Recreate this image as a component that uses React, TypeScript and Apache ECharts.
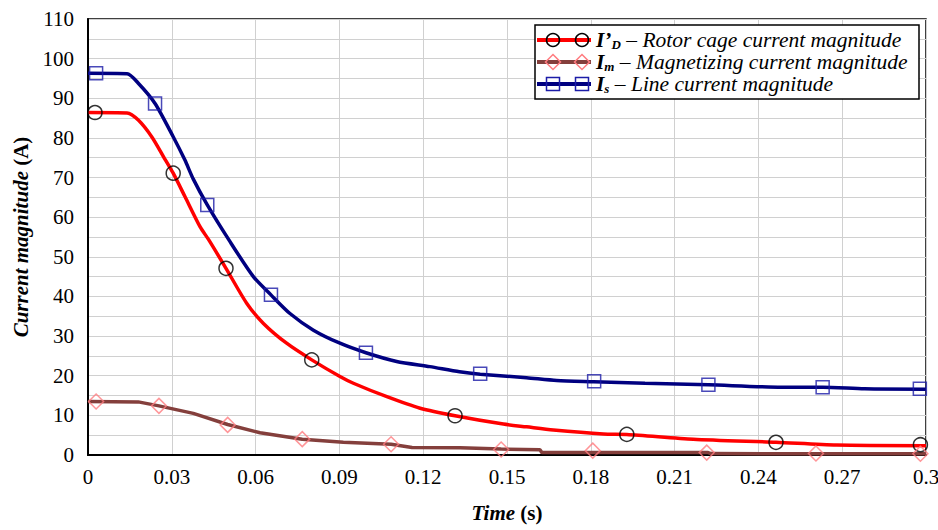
import React, { useEffect, useRef } from "react";
import * as echarts from "echarts";

// ---- Data ----
const isTimes = [0, 0.014, 0.018, 0.024, 0.0305, 0.0347, 0.0377, 0.0427, 0.0505, 0.0592, 0.0655, 0.0723, 0.0807, 0.0902, 0.0995, 0.1105, 0.1224, 0.133, 0.1404, 0.157, 0.1678, 0.181, 0.1994, 0.2221, 0.2483, 0.263, 0.278, 0.3];
const isValues = [96.3, 96.2, 93.8, 88.7, 80.3, 74.4, 69.6, 63.1, 54.2, 45.0, 40.4, 35.7, 31.5, 28.2, 25.8, 23.6, 22.3, 21.0, 20.4, 19.5, 18.8, 18.5, 18.1, 17.7, 17.1, 17.1, 16.7, 16.6];

const idTimes = [0, 0.014, 0.018, 0.0228, 0.027, 0.0305, 0.0347, 0.0401, 0.0433, 0.0494, 0.0568, 0.0628, 0.0711, 0.0801, 0.0902, 0.095, 0.107, 0.1189, 0.1314, 0.1487, 0.157, 0.1666, 0.1845, 0.1929, 0.2167, 0.2463, 0.268, 0.3];
const idValues = [86.4, 86.3, 84.5, 80.3, 75.3, 71.1, 65.2, 57.6, 54.2, 47.1, 38.3, 33.2, 28.2, 24.0, 19.8, 18.1, 14.7, 11.8, 9.9, 7.8, 7.1, 6.3, 5.3, 5.2, 4.0, 3.2, 2.5, 2.35];

const imTimes = [0, 0.018, 0.0254, 0.0377, 0.05, 0.0616, 0.0767, 0.0914, 0.1085, 0.116, 0.1332, 0.1479, 0.1618, 0.1625, 0.222, 0.223, 0.3];
const imValues = [13.5, 13.4, 12.4, 10.5, 7.7, 5.6, 4.0, 3.2, 2.7, 1.9, 1.8, 1.5, 1.3, 0.6, 0.6, 0.35, 0.3];

const idMarkTimes = [0.0025, 0.0305, 0.0494, 0.0801, 0.1314, 0.1929, 0.2463, 0.298];
const idMarkValues = [86.4, 71.1, 47.1, 24.0, 9.9, 5.2, 3.2, 2.6];

const imMarkTimes = [0.0029, 0.0254, 0.05, 0.0767, 0.1085, 0.1479, 0.1807, 0.2215, 0.2606, 0.298];
const imMarkValues = [13.5, 12.4, 7.6, 4.0, 2.7, 1.4, 1.1, 0.6, 0.4, 0.3];

const isMarkTimes = [0.0029, 0.024, 0.0427, 0.0655, 0.0995, 0.1404, 0.1812, 0.2221, 0.263, 0.2978];
const isMarkValues = [96.3, 88.7, 63.1, 40.4, 25.8, 20.5, 18.6, 17.7, 17.1, 16.7];

const xTickLabels = ["0", "0.03", "0.06", "0.09", "0.12", "0.15", "0.18", "0.21", "0.24", "0.27", "0.3"];

const legendNames = [
  ["I\u2019", "D", " \u2013 Rotor cage current magnitude"],
  ["I", "m", " \u2013 Magnetizing current magnitude"],
  ["I", "s", " \u2013 Line current magnitude"],
];

const FONT = "Liberation Serif";

const RED = "#ff0000";
const BROWN = "#843f3c";
const NAVY = "#000080";
const PINK = "#ff7c80";
const SQBLUE = "#1c1ca8";

const zip = (a: number[], b: number[]) => a.map((t, i) => [t, b[i]]);

export default function App() {
  const ref = useRef<HTMLDivElement>(null);
  useEffect(() => {
    if (!ref.current) return;
    const chart = echarts.init(ref.current, undefined, { renderer: "svg" });

    const lx0 = 537, lx1 = 591, m1 = 553, m2 = 582, tx = 596;
    const rows = [40, 62, 84];
    const legendGraphics: any[] = [
      {
        type: "rect",
        shape: { x: 535, y: 25, width: 384, height: 74 },
        style: { fill: "#fff", stroke: "#000", lineWidth: 1.5 },
        z: 100,
      },
    ];
    const lineColors = [RED, BROWN, NAVY];
    rows.forEach((ry, i) => {
      legendGraphics.push({
        type: "line",
        shape: { x1: lx0, y1: ry, x2: lx1, y2: ry },
        style: { stroke: lineColors[i], lineWidth: 4 },
        z: 101,
      });
      [m1, m2].forEach((mx) => {
        if (i === 0) {
          legendGraphics.push({
            type: "circle",
            shape: { cx: mx, cy: ry, r: 6.5 },
            style: { fill: "none", stroke: "#000", lineWidth: 1.5 },
            z: 102,
          });
        } else if (i === 1) {
          legendGraphics.push({
            type: "polygon",
            shape: { points: [[mx, ry - 7.5], [mx + 7.5, ry], [mx, ry + 7.5], [mx - 7.5, ry]] },
            style: { fill: "none", stroke: PINK, lineWidth: 1.5 },
            z: 102,
          });
        } else {
          legendGraphics.push({
            type: "rect",
            shape: { x: mx - 6.5, y: ry - 6.5, width: 13, height: 13 },
            style: { fill: "none", stroke: SQBLUE, lineWidth: 1.5 },
            z: 102,
          });
        }
      });
      const [a, s, rest] = legendNames[i];
      legendGraphics.push({
        type: "text",
        x: tx,
        y: ry,
        z: 103,
        style: {
          text: `{b|${a}}{sub|${s}}{t|${rest}}`,
          verticalAlign: "middle",
          fill: "#000",
          rich: {
            b: { fontFamily: FONT, fontSize: 21.5, fontWeight: "bold", fontStyle: "italic", lineHeight: 22, verticalAlign: "bottom" },
            sub: { fontFamily: FONT, fontSize: 13, fontWeight: "bold", fontStyle: "italic", lineHeight: 12, verticalAlign: "bottom" },
            t: { fontFamily: FONT, fontSize: 21.5, fontStyle: "italic", lineHeight: 22, verticalAlign: "bottom" },
          },
        },
      });
    });

    const lineSeries = (name: string, t: number[], v: number[], color: string, smooth: number) => ({
      name,
      type: "line",
      data: zip(t, v),
      showSymbol: false,
      symbol: "none",
      smooth,
      lineStyle: { color, width: 3.5 },
      z: 3,
    });
    const markSeries = (name: string, t: number[], v: number[], symbol: string, size: number, color: string) => ({
      name,
      type: "scatter",
      data: zip(t, v),
      symbol,
      symbolSize: size,
      itemStyle: { color: "rgba(0,0,0,0)", borderColor: color, borderWidth: 1.5 },
      z: 4,
    });

    const nameRich = {
      bi: { fontFamily: FONT, fontSize: 21, fontWeight: "bold", fontStyle: "italic", color: "#000" },
      b: { fontFamily: FONT, fontSize: 21, fontWeight: "bold", color: "#000" },
    };

    chart.setOption({
      animation: false,
      backgroundColor: "#fff",
      grid: {
        left: 88, right: 12, top: 19, bottom: 75,
        show: true, borderColor: "#000", borderWidth: 1.5,
        containLabel: false, outerBoundsMode: "none",
      },
      xAxis: {
        type: "value",
        min: 0,
        max: 0.3,
        interval: 0.03,
        axisLine: { show: true, onZero: false, lineStyle: { color: "#000", width: 2 } },
        axisTick: { show: false },
        splitLine: { show: true, lineStyle: { color: "#d0d0d0", width: 1 } },
        axisLabel: {
          fontFamily: FONT,
          fontSize: 21,
          color: "#000",
          margin: 11,
          formatter: (v: number) => xTickLabels[Math.round(v / 0.03)] ?? "",
        },
        name: "{bi|Time}{b| (s)}",
        nameLocation: "middle",
        nameGap: 47,
        nameTextStyle: { rich: nameRich },
      },
      yAxis: {
        type: "value",
        min: 0,
        max: 110,
        interval: 10,
        axisLine: { show: true, onZero: false, lineStyle: { color: "#000", width: 2 } },
        axisTick: { show: false },
        splitLine: { show: true, lineStyle: { color: "#d0d0d0", width: 1 } },
        minorTick: { show: false, splitNumber: 2 },
        minorSplitLine: { show: true, lineStyle: { color: "#d0d0d0", width: 1 } },
        axisLabel: { fontFamily: FONT, fontSize: 21, color: "#000", margin: 14 },
        name: "{bi|Current magnitude }{b|(A)}",
        nameLocation: "middle",
        nameGap: 56,
        nameTextStyle: { rich: nameRich },
      },
      graphic: legendGraphics,
      series: [
        lineSeries("ID", idTimes, idValues, RED, 0.25),
        lineSeries("Im", imTimes, imValues, BROWN, 0),
        lineSeries("Is", isTimes, isValues, NAVY, 0.25),
        markSeries("ID markers", idMarkTimes, idMarkValues, "circle", 14, "#000"),
        markSeries("Im markers", imMarkTimes, imMarkValues, "diamond", 15, PINK),
        markSeries("Is markers", isMarkTimes, isMarkValues, "rect", 13, SQBLUE),
      ],
    });
    return () => chart.dispose();
  }, []);
  return <div ref={ref} style={{ position: "absolute", left: 0, top: 0, width: 938, height: 530 }} />;
}
